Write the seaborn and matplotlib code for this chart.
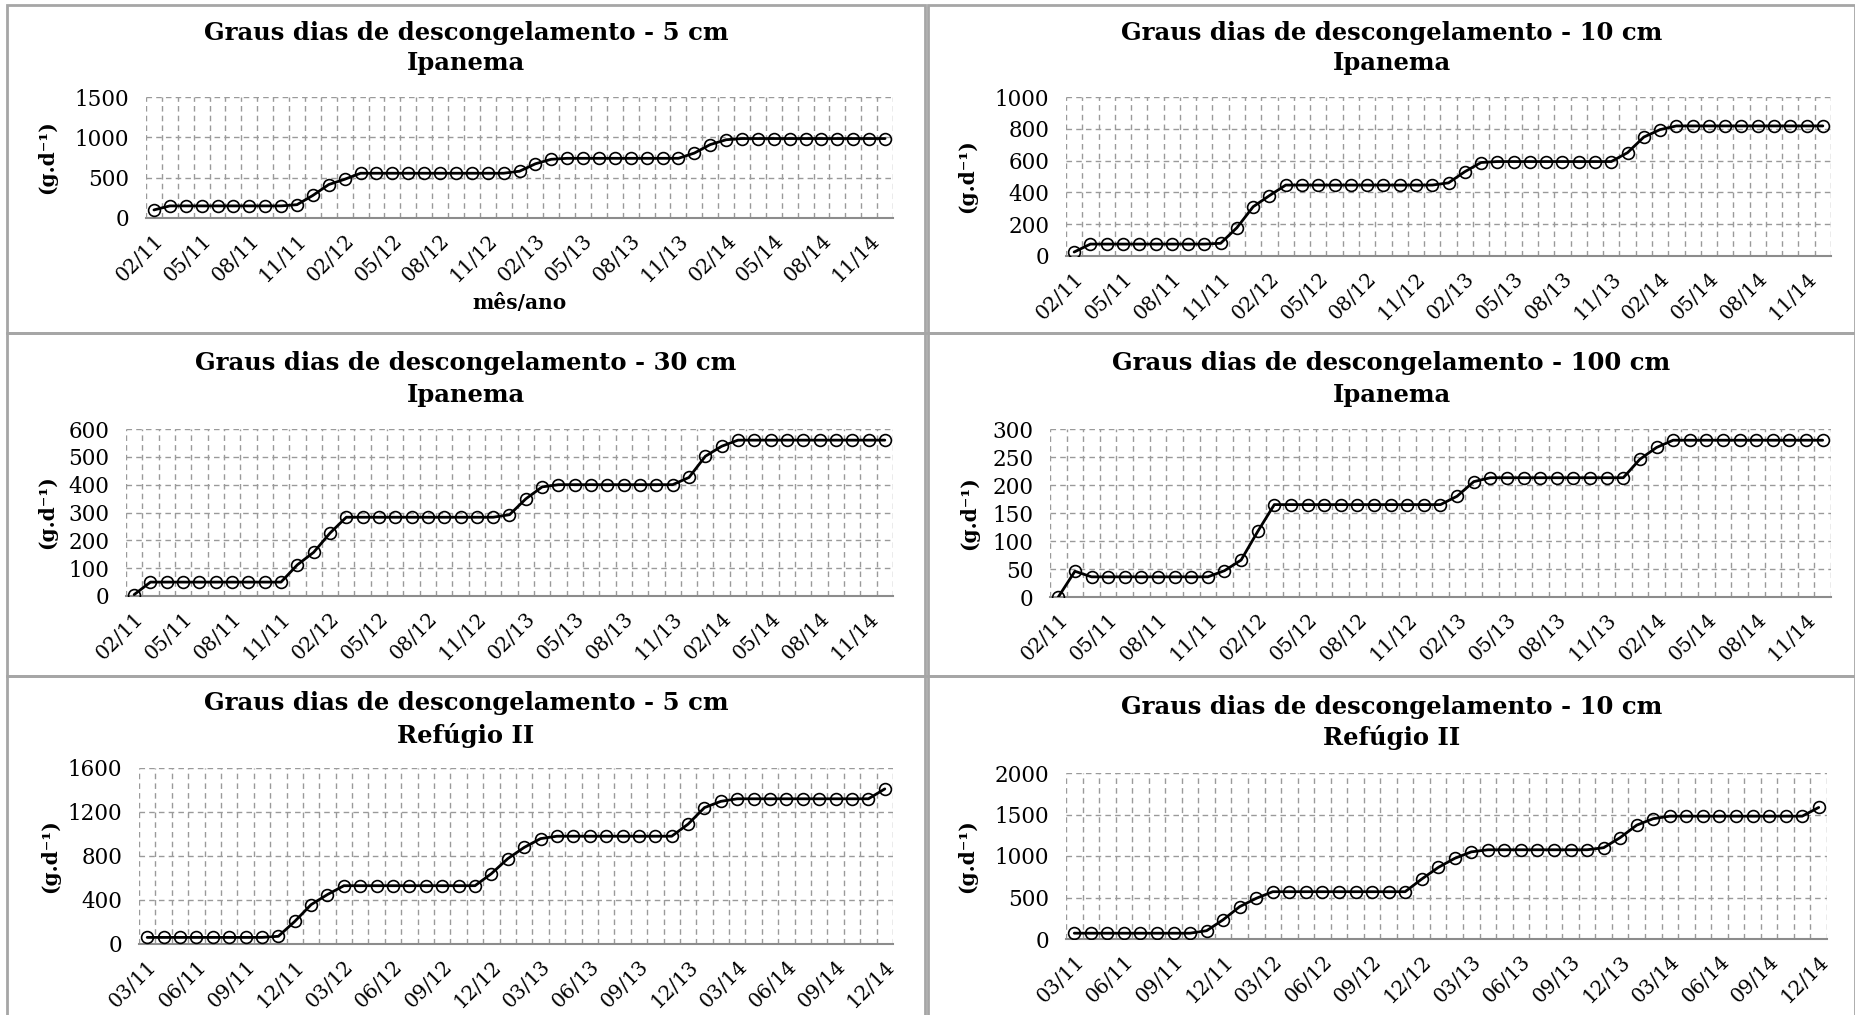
import numpy as np
import pandas as pd
import matplotlib
matplotlib.use("Agg")
import matplotlib.pyplot as plt
from matplotlib.patches import Rectangle
from matplotlib.ticker import FixedLocator
import seaborn as sns

# ---- data -------------------------------------------------------------
meses_ipanema = list(pd.date_range("2011-02-01", periods=47, freq="MS").strftime("%m/%y"))
meses_refugio = list(pd.date_range("2011-03-01", periods=46, freq="MS").strftime("%m/%y"))

ipanema_5cm = ([100] + [150] * 8 + [165, 280, 415, 480] + [555] * 10 +
               [580, 672, 728] + [740] * 8 + [805, 910, 970] + [985] * 10)
ipanema_10cm = ([25] + [75] * 8 + [80, 178, 310, 380] + [446] * 10 +
                [460, 530, 588] + [594] * 8 + [650, 748, 795] + [818] * 10)
ipanema_30cm = ([5] + [50] * 9 + [112, 157, 226] + [283] * 10 +
                [292, 349, 392] + [400] * 8 + [426, 502, 538] + [560] * 10)
ipanema_100cm = ([0, 46] + [36] * 8 + [47, 66, 117] + [165] * 11 +
                 [180, 206] + [213] * 9 + [246, 267] + [280] * 10)
refugio_5cm = ([60] * 8 + [70, 205, 358, 450] + [530] * 9 +
               [640, 776, 878, 958] + [980] * 8 + [1090, 1240, 1297] + [1320] * 9 + [1410])
refugio_10cm = ([70] * 8 + [100, 232, 390, 490] + [570] * 9 +
                [722, 862, 972, 1050] + [1075] * 7 + [1100, 1222, 1372, 1450] + [1480] * 9 + [1585])

titulos = [
    ("Graus dias de descongelamento - 5 cm", "Ipanema"),
    ("Graus dias de descongelamento - 10 cm", "Ipanema"),
    ("Graus dias de descongelamento - 30 cm", "Ipanema"),
    ("Graus dias de descongelamento - 100 cm", "Ipanema"),
    ("Graus dias de descongelamento - 5 cm", "Refúgio II"),
    ("Graus dias de descongelamento - 10 cm", "Refúgio II"),
]
series = [ipanema_5cm, ipanema_10cm, ipanema_30cm, ipanema_100cm, refugio_5cm, refugio_10cm]
meses = [meses_ipanema] * 4 + [meses_refugio] * 2
y_ticks = [
    [0, 500, 1000, 1500],
    [0, 200, 400, 600, 800, 1000],
    [0, 100, 200, 300, 400, 500, 600],
    [0, 50, 100, 150, 200, 250, 300],
    [0, 400, 800, 1200, 1600],
    [0, 500, 1000, 1500, 2000],
]

# ---- layout (pixels) --------------------------------------------------
W, H = 1856, 1015
sns.set_style("white")
plt.rcParams["font.family"] = ["DejaVu Serif"]
plt.rcParams["text.color"] = "black"
plt.rcParams["xtick.color"] = "black"
plt.rcParams["ytick.color"] = "black"

fig = plt.figure(figsize=(W / 100, H / 100), dpi=100)
fig.patch.set_facecolor("white")

# plot areas: (x0, x1, y_top, y_bottom)
areas = [
    (146, 893, 97, 218),
    (1066, 1831, 97, 256),
    (126, 893, 429, 596),
    (1050, 1831, 429, 597),
    (139, 893, 768, 944),
    (1066, 1827, 773, 939),
]
# frames: (x0, x1, y_top, y_bottom)
frames = [
    (7, 925, 5, 333), (928, 1855, 5, 333),
    (7, 925, 333, 676), (928, 1855, 333, 676),
    (7, 925, 676, 1030), (928, 1855, 676, 1030),
]
title_y = [(33, 63), (33, 63), (363, 395), (363, 395), (703, 735), (707, 737)]
ylabel_x = [47, 967, 47, 969, 50, 967]

def fx(x):
    return x / W

def fy(y):
    return 1 - y / H

for (x0, x1, y0, y1) in frames:
    fig.patches.append(Rectangle((fx(x0), fy(y1)), fx(x1 - x0), (y1 - y0) / H,
                                 transform=fig.transFigure, fill=False,
                                 edgecolor="#a6a6a6", linewidth=2, zorder=0))

grid_color = "#9a9a9a"
dash = (0, (4, 3))

for k, valores in enumerate(series):
    x0, x1, yt, yb = areas[k]
    ax = fig.add_axes([fx(x0), fy(yb), fx(x1 - x0), (yb - yt) / H])
    n = len(valores)
    df = pd.DataFrame({"pos": np.arange(n), "valor": valores})
    sns.lineplot(data=df, x="pos", y="valor", ax=ax, color="black", linewidth=2,
                 marker="o", markersize=8.5, markerfacecolor="none",
                 markeredgecolor="black", markeredgewidth=1.2, zorder=3)

    ax.set_xlim(-0.5, n - 0.5)
    ax.set_ylim(0, y_ticks[k][-1])
    ax.set_yticks(y_ticks[k])
    ax.set_yticklabels([str(v) for v in y_ticks[k]], fontsize=15.5)
    pos_lab = list(range(0, n, 3))
    ax.set_xticks(pos_lab)
    ax.set_xticklabels([meses[k][i] for i in pos_lab], rotation=45, ha="right",
                       rotation_mode="anchor", fontsize=14.5)
    ax.xaxis.set_minor_locator(FixedLocator(np.arange(-0.5, n, 1.0)))

    ax.grid(False)
    ax.grid(axis="y", which="major", color=grid_color, linestyle=dash, linewidth=1)
    ax.grid(axis="x", which="minor", color=grid_color, linestyle=dash, linewidth=1)
    for s in ("top", "right", "left"):
        ax.spines[s].set_visible(False)
    ax.spines["bottom"].set_color("#8c8c8c")
    ax.spines["bottom"].set_linewidth(1.5)
    ax.tick_params(axis="y", which="major", length=7, color=grid_color, pad=5)
    ax.tick_params(axis="x", which="both", length=0, pad=9)
    ax.set_xlabel("")
    ax.set_ylabel("")

    # titles and axis label
    cx = (frames[k][0] + frames[k][1]) / 2
    fig.text(fx(cx), fy(title_y[k][0]), titulos[k][0], ha="center", va="center",
             fontsize=17.5, fontweight="bold")
    fig.text(fx(cx), fy(title_y[k][1]), titulos[k][1], ha="center", va="center",
             fontsize=17.5, fontweight="bold")
    fig.text(fx(ylabel_x[k]), fy((yt + yb) / 2), "(g.d\u207b\u00b9)", rotation=90,
             ha="center", va="center", fontsize=14.5, fontweight="bold")

fig.text(fx((146 + 893) / 2), fy(303), "mês/ano", ha="center", va="center",
         fontsize=14.5, fontweight="bold")

fig.savefig("out.png", dpi=100)
